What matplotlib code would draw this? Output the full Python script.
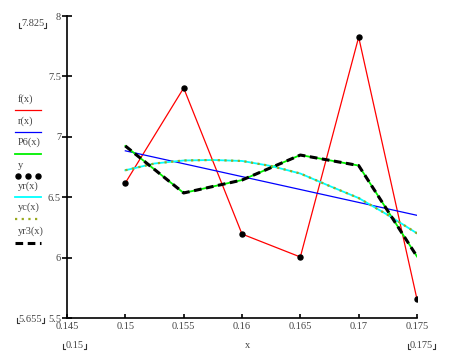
import numpy as np
import matplotlib
matplotlib.use("Agg")
import matplotlib.pyplot as plt
from matplotlib.lines import Line2D

plt.rcParams['font.family'] = ['Liberation Serif', 'DejaVu Serif']

# data
x_pts = [0.15, 0.155, 0.16, 0.165, 0.17, 0.175]
f_vals = [6.618, 7.404, 6.195, 6.005, 7.825, 5.655]
r_x = [0.15, 0.175]
r_vals = [6.884, 6.350]
p6_vals = [6.924, 6.535, 6.642, 6.849, 6.762, 6.009]
yc_x = [0.15, 0.1525, 0.155, 0.1575, 0.16, 0.1625, 0.165, 0.1675, 0.17, 0.1725, 0.175]
yc_vals = [6.723, 6.779, 6.804, 6.808, 6.800, 6.758, 6.696, 6.593, 6.493, 6.353, 6.201]
xticks = [0.145, 0.15, 0.155, 0.16, 0.165, 0.17, 0.175]
xtick_labels = ["0.145", "0.15", "0.155", "0.16", "0.165", "0.17", "0.175"]
yticks = [5.5, 6, 6.5, 7, 7.5, 8]
ytick_labels = ["5.5", "6", "6.5", "7", "7.5", "8"]
legend_names = ["f(x)", "r(x)", "P6(x)", "y", "yr(x)", "yc(x)", "yr3(x)"]

W, H = 449, 351
fig = plt.figure(figsize=(W / 100, H / 100), dpi=100)
ax = fig.add_axes([67 / W, 1 - 318 / H, (417 - 67) / W, (318 - 16) / H])

green = '#00f000'
olive = '#9aaa20'
ax.plot(x_pts, f_vals, color='red', lw=0.9)
ax.plot(r_x, r_vals, color='blue', lw=0.9)
ax.plot(x_pts, p6_vals, color=green, lw=1.3)
ax.plot(x_pts, f_vals, 'o', color='black', ms=3.6, ls='none')
ax.plot(yc_x, yc_vals, color='cyan', lw=1.3)
ax.plot(yc_x, yc_vals, color=olive, lw=1.6, ls=(0, (1, 2)))
ax.plot(x_pts, p6_vals, color='black', lw=2.2, ls=(0, (2.5, 1.5)))

ax.set_xlim(0.145, 0.175)
ax.set_ylim(5.5, 8)
ax.set_xticks(xticks)
ax.set_xticklabels(xtick_labels)
ax.set_yticks(yticks)
ax.set_yticklabels(ytick_labels)
for s in ['top', 'right']:
    ax.spines[s].set_visible(False)
for s in ['left', 'bottom']:
    ax.spines[s].set_linewidth(1.2)
tc = '#444444'
ax.tick_params(axis='y', direction='inout', length=6.5, width=1.2, pad=1, labelsize=7.5, labelcolor=tc)
ax.tick_params(axis='x', direction='in', length=3, width=1.2, pad=3, labelsize=7.5, labelcolor=tc)
ax.patch.set_visible(False)

def px(x, y):
    return x / W, 1 - y / H

fig.text(*px(248, 345), "x", ha='center', va='center', fontsize=7.5, color=tc)

# legend on the left
text_y = [99, 121, 142, 165, 186, 207, 231]
samp_y = [110, 132, 154, 176, 197, 219, 243]
for name, ty in zip(legend_names, text_y):
    fig.text(*px(18, ty), name, ha='left', va='center', fontsize=7.5, color=tc)

def sample(y, **kw):
    fig.add_artist(Line2D([15 / W, 41 / W], [1 - y / H, 1 - y / H], **kw))

sample(samp_y[0], color='red', lw=0.9)
sample(samp_y[1], color='blue', lw=0.9)
sample(samp_y[2], color=green, lw=1.3)
fig.add_artist(Line2D([18 / W, 28 / W, 38 / W], [1 - samp_y[3] / H] * 3, color='black', marker='o', ms=3.6, ls='none'))
sample(samp_y[4], color='cyan', lw=1.3)
sample(samp_y[5], color=olive, lw=1.6, ls=(0, (1, 2)))
sample(samp_y[6], color='black', lw=2.2, ls=(0, (2.5, 1.5)))

# limit labels with corner brackets
def limit(x0, x1, y, label):
    fig.text(*px((x0 + x1) / 2, y - 1), label, ha='center', va='center', fontsize=7.5, color=tc)
    for xx, dx in [(x0, 2), (x1, -2)]:
        fig.add_artist(Line2D([xx / W, xx / W, (xx + dx) / W],
                              [1 - (y - 2.5) / H, 1 - (y + 3) / H, 1 - (y + 3) / H],
                              color='#333333', lw=0.8))

limit(19, 46, 25, "7.825")
limit(17, 44, 320, "5.655")
limit(63, 86, 346, "0.15")
limit(408, 435, 346, "0.175")

fig.savefig("out.png", dpi=100)
